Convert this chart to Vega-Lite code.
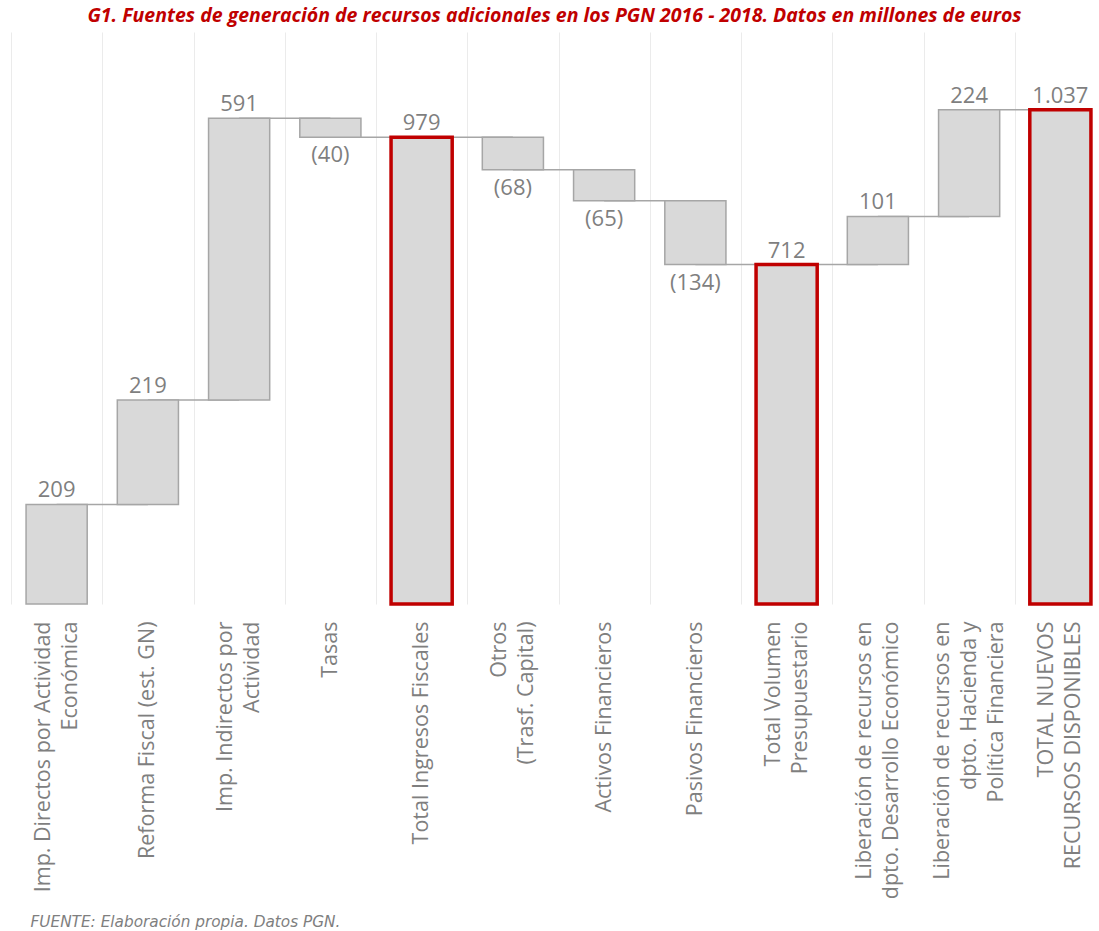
{
  "$schema": "https://vega.github.io/schema/vega-lite/v6.json",
  "autosize": "none",
  "width": 1087,
  "height": 572,
  "padding": {"left": 11, "top": 32, "right": 1, "bottom": 327},
  "background": "white",
  "title": {
    "text": "G1. Fuentes de generación de recursos adicionales en los PGN 2016 - 2018. Datos en millones de euros",
    "font": "Open Sans",
    "fontSize": 19.5,
    "fontWeight": "bold",
    "fontStyle": "italic",
    "color": "#c00000",
    "anchor": "middle",
    "offset": 6
  },
  "data": {
    "values": [
      {"label": "Imp. Directos por Actividad|Económica", "start": 0, "end": 209, "kind": "pos", "txt": "209", "next": "Reforma Fiscal (est. GN)"},
      {"label": "Reforma Fiscal (est. GN)", "start": 209, "end": 428, "kind": "pos", "txt": "219", "next": "Imp. Indirectos por|Actividad"},
      {"label": "Imp. Indirectos por|Actividad", "start": 428, "end": 1019, "kind": "pos", "txt": "591", "next": "Tasas"},
      {"label": "Tasas", "start": 1019, "end": 979, "kind": "neg", "txt": "(40)", "next": "Total Ingresos Fiscales"},
      {"label": "Total Ingresos Fiscales", "start": 0, "end": 979, "kind": "total", "txt": "979", "next": "Otros|(Trasf. Capital)"},
      {"label": "Otros|(Trasf. Capital)", "start": 979, "end": 911, "kind": "neg", "txt": "(68)", "next": "Activos Financieros"},
      {"label": "Activos Financieros", "start": 911, "end": 846, "kind": "neg", "txt": "(65)", "next": "Pasivos Financieros"},
      {"label": "Pasivos Financieros", "start": 846, "end": 712, "kind": "neg", "txt": "(134)", "next": "Total Volumen|Presupuestario"},
      {"label": "Total Volumen|Presupuestario", "start": 0, "end": 712, "kind": "total", "txt": "712", "next": "Liberación de recursos en|dpto. Desarrollo Económico"},
      {"label": "Liberación de recursos en|dpto. Desarrollo Económico", "start": 712, "end": 813, "kind": "pos", "txt": "101", "next": "Liberación de recursos en|dpto. Hacienda y|Política Financiera"},
      {"label": "Liberación de recursos en|dpto. Hacienda y|Política Financiera", "start": 813, "end": 1037, "kind": "pos", "txt": "224", "next": "TOTAL NUEVOS|RECURSOS DISPONIBLES"},
      {"label": "TOTAL NUEVOS|RECURSOS DISPONIBLES", "start": 0, "end": 1037, "kind": "total", "txt": "1.037", "next": null}
    ]
  },
  "encoding": {
    "x": {
      "field": "label",
      "type": "nominal",
      "sort": null,
      "scale": {
        "domain": [
          "Imp. Directos por Actividad|Económica",
          "Reforma Fiscal (est. GN)",
          "Imp. Indirectos por|Actividad",
          "Tasas",
          "Total Ingresos Fiscales",
          "Otros|(Trasf. Capital)",
          "Activos Financieros",
          "Pasivos Financieros",
          "Total Volumen|Presupuestario",
          "Liberación de recursos en|dpto. Desarrollo Económico",
          "Liberación de recursos en|dpto. Hacienda y|Política Financiera",
          "TOTAL NUEVOS|RECURSOS DISPONIBLES"
        ],
        "range": [0, 1095],
        "paddingInner": 0,
        "paddingOuter": 0
      },
      "axis": {
        "title": "FUENTE: Elaboración propia. Datos PGN.",
        "titleFont": "DejaVu Sans",
        "titleFontSize": 15.3,
        "titleFontStyle": "italic",
        "titleFontWeight": "normal",
        "titleColor": "#7f7f7f",
        "titleAnchor": "start",
        "titleAlign": "left",
        "titleBaseline": "middle",
        "titleX": 19,
        "titleY": 317,
        "labelAngle": -90,
        "labelAlign": "right",
        "labelBaseline": "middle",
        "labelExpr": "split(datum.label, '|')",
        "labelOffset": {
          "condition": [
            {"test": "length(split(datum.value, '|')) == 3", "value": -27},
            {"test": "length(split(datum.value, '|')) == 2", "value": -13.5}
          ],
          "value": 0
        },
        "labelFont": "Open Sans",
        "labelFontSize": 21.5,
        "labelColor": "#7f7f7f",
        "labelLineHeight": 27,
        "labelLimit": 0,
        "labelPadding": 17,
        "ticks": false,
        "domain": false,
        "grid": true,
        "gridColor": "#ebebeb",
        "gridWidth": 1,
        "tickBand": "extent"
      }
    }
  },
  "layer": [
    {
      "transform": [{"filter": "datum.next != null"}],
      "mark": {"type": "rule", "color": "#a6a6a6", "strokeWidth": 1.5},
      "encoding": {
        "x2": {"field": "next"},
        "y": {"field": "end", "type": "quantitative", "scale": {"domain": [0, 1200]}, "axis": null}
      }
    },
    {
      "transform": [{"filter": "datum.kind != 'total'"}],
      "mark": {"type": "bar", "fill": "#d9d9d9", "stroke": "#a6a6a6", "strokeWidth": 1.5, "width": {"band": 0.67}},
      "encoding": {
        "y": {"field": "start", "type": "quantitative"},
        "y2": {"field": "end"}
      }
    },
    {
      "transform": [{"filter": "datum.kind == 'total'"}],
      "mark": {"type": "bar", "fill": "#d9d9d9", "stroke": "#c00000", "strokeWidth": 3.5, "width": {"band": 0.67}},
      "encoding": {
        "y": {"field": "start", "type": "quantitative"},
        "y2": {"field": "end"}
      }
    },
    {
      "transform": [{"filter": "datum.kind != 'neg'"}],
      "mark": {"type": "text", "baseline": "bottom", "dy": -2, "font": "Open Sans", "fontSize": 22, "color": "#7f7f7f"},
      "encoding": {
        "y": {"field": "end", "type": "quantitative"},
        "text": {"field": "txt"}
      }
    },
    {
      "transform": [{"filter": "datum.kind == 'neg'"}],
      "mark": {"type": "text", "baseline": "top", "dy": 8, "font": "Open Sans", "fontSize": 22, "color": "#7f7f7f"},
      "encoding": {
        "y": {"field": "end", "type": "quantitative"},
        "text": {"field": "txt"}
      }
    }
  ],
  "config": {"view": {"stroke": null}}
}
